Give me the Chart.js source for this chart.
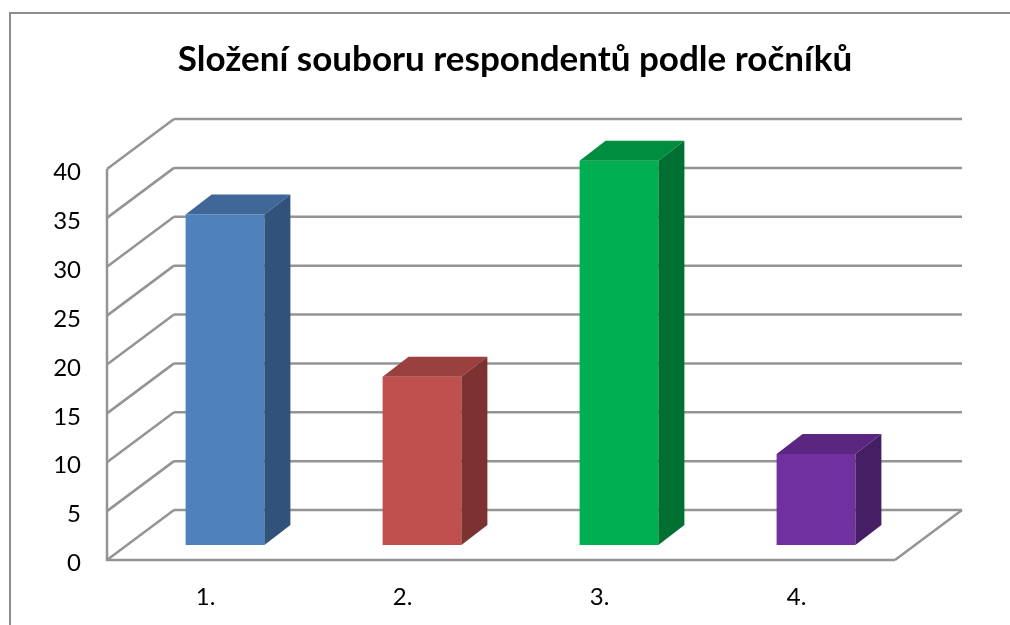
<!DOCTYPE html>
<html lang="cs">
<head>
<meta charset="utf-8">
<title>Složení souboru respondentů podle ročníků</title>
<style>
html,body{margin:0;padding:0;background:#fff;overflow:hidden}
canvas{display:block}
</style>
<script src="https://cdn.jsdelivr.net/npm/chart.js@4"></script>
</head>
<body>
<canvas id="c" width="1010" height="625"></canvas>
<script>
const categories = ['1.', '2.', '3.', '4.'];
const respondents = [33.8, 17.2, 39.3, 9.3];
const frontColors = ['#4F81BD', '#C0504D', '#00B050', '#7030A0'];
const topColors = ['#3F6797', '#9A403E', '#008D40', '#5A2680'];
const sideColors = ['#31527A', '#7C3230', '#006F32', '#461E64'];
const titleText = 'Složení souboru respondentů podle ročníků';

const WALL = {dx: 67, dy: -50};
const BAR_SHIFT = {dx: 19.5, dy: -15};
const BAR_DEPTH = {dx: 26, dy: -20};
const GRID = '#949494';
const FONT = 'Lato, "Open Sans", sans-serif';

function line(ctx, x1, y1, x2, y2) {
  ctx.beginPath(); ctx.moveTo(x1, y1); ctx.lineTo(x2, y2); ctx.stroke();
}
function poly(ctx, pts, color) {
  ctx.fillStyle = color;
  ctx.beginPath();
  pts.forEach((p, i) => i ? ctx.lineTo(p[0], p[1]) : ctx.moveTo(p[0], p[1]));
  ctx.closePath(); ctx.fill();
}

const box3d = {
  id: 'box3d',
  beforeDraw(chart) {
    const ctx = chart.ctx;
    ctx.save();
    ctx.fillStyle = '#fff';
    ctx.fillRect(0, 0, chart.width, chart.height);
    ctx.strokeStyle = '#8c8c8c';
    ctx.lineWidth = 2;
    ctx.beginPath();
    ctx.moveTo(10, chart.height + 2);
    ctx.lineTo(10, 13);
    ctx.lineTo(chart.width + 2, 13);
    ctx.stroke();
    ctx.restore();
    chart.scales.y.getLabelItems().forEach(item => {
      if (!item.nudged) { item.options.translation[1] += 3.5; item.nudged = true; }
    });
  },
  beforeDatasetsDraw(chart) {
    const ctx = chart.ctx, a = chart.chartArea, y = chart.scales.y;
    ctx.save();
    ctx.strokeStyle = GRID;
    ctx.lineWidth = 2.5;
    y.ticks.forEach(t => {
      const py = y.getPixelForValue(t.value);
      line(ctx, a.left + WALL.dx, py + WALL.dy, a.right + WALL.dx, py + WALL.dy);
      line(ctx, a.left, py, a.left + WALL.dx, py + WALL.dy);
    });
    line(ctx, a.left, a.top, a.left, a.bottom + 1);
    line(ctx, a.left - 1, a.bottom, a.right, a.bottom);
    line(ctx, a.right, a.bottom, a.right + WALL.dx, a.bottom + WALL.dy);
    ctx.restore();
  },
  beforeDatasetDraw(chart) {
    chart.ctx.save();
    chart.ctx.translate(BAR_SHIFT.dx, BAR_SHIFT.dy);
  },
  afterDatasetDraw(chart, args) {
    const ctx = chart.ctx;
    args.meta.data.forEach((el, i) => {
      const {x, y, base, width} = el.getProps(['x', 'y', 'base', 'width'], true);
      const l = x - width / 2, r = x + width / 2;
      const dx = BAR_DEPTH.dx, dy = BAR_DEPTH.dy;
      poly(ctx, [[l, y], [l + dx, y + dy], [r + dx, y + dy], [r, y]], topColors[i]);
      poly(ctx, [[r, y], [r + dx, y + dy], [r + dx, base + dy], [r, base]], sideColors[i]);
    });
    ctx.restore();
  }
};

new Chart(document.getElementById('c'), {
  type: 'bar',
  data: {
    labels: categories,
    datasets: [{
      data: respondents,
      backgroundColor: frontColors,
      barPercentage: 0.4,
      categoryPercentage: 1,
      clip: false
    }]
  },
  plugins: [box3d],
  options: {
    responsive: false,
    animation: false,
    layout: {padding: {left: 20, right: 0, top: 0, bottom: 0}},
    plugins: {
      legend: {display: false},
      tooltip: {enabled: false},
      title: {
        display: true,
        text: titleText,
        color: '#000',
        font: {family: FONT, size: 35, weight: 'bold', lineHeight: 1.2},
        padding: {top: 39, bottom: 88}
      }
    },
    scales: {
      x: {
        grid: {display: false},
        border: {display: false},
        ticks: {color: '#000', font: {family: FONT, size: 24}, padding: 15, maxRotation: 0},
        afterFit(s) { s.height = 65; }
      },
      y: {
        min: 0, max: 40,
        grid: {display: false, drawTicks: false},
        border: {display: false},
        ticks: {stepSize: 5, color: '#000', font: {family: FONT, size: 24}, padding: 26},
        afterFit(s) { s.width = 87; }
      },
      rightGap: {
        position: 'right',
        grid: {display: false},
        border: {display: false},
        ticks: {display: false},
        afterFit(s) { s.width = 115; }
      }
    }
  }
});
</script>
</body>
</html>
